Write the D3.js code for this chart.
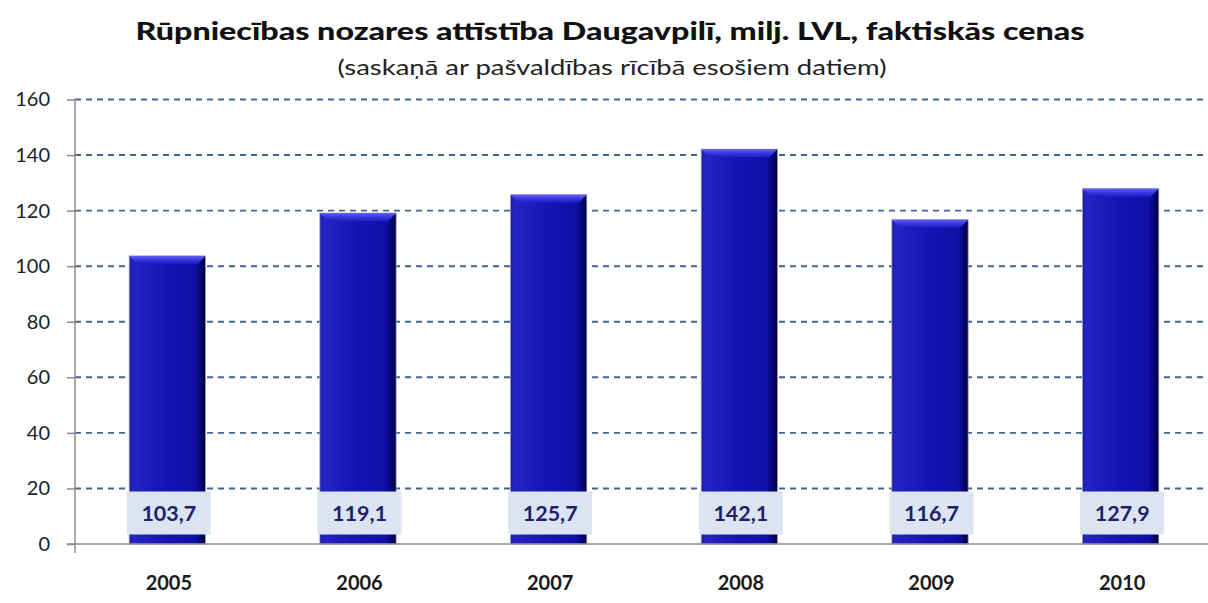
<!DOCTYPE html>
<html>
<head>
<meta charset="utf-8">
<script src="https://cdn.jsdelivr.net/npm/d3@7"></script>
<style>
html,body{margin:0;padding:0;background:#fff;}
svg{display:block;}
</style>
</head>
<body>
<svg id="chart" width="1208" height="603"></svg>
<script>
const categories = ["2005","2006","2007","2008","2009","2010"];
const values = [103.7,119.1,125.7,142.1,116.7,127.9];
const yTicks = [0,20,40,60,80,100,120,140,160];
const titleText = "Rūpniecības nozares attīstība Daugavpilī, milj. LVL, faktiskās cenas";
const subtitleText = "(saskaņā ar pašvaldības rīcībā  esošiem datiem)";

const svg = d3.select("#chart");
const font = "Lato, 'Open Sans', sans-serif";
const plotLeft = 75, plotTop = 99.5, plotBottom = 544;

const x = d3.scaleBand().domain(categories).range([72, 1216]).paddingInner(0.6).paddingOuter(0.3);
const y = d3.scaleLinear().domain([0,160]).range([plotBottom, plotTop]);

const defs = svg.append("defs");
const g1 = defs.append("linearGradient").attr("id","barH").attr("x1","0").attr("x2","1").attr("y1","0").attr("y2","0");
[[0,"#1c1ca0"],[0.05,"#2424c4"],[0.5,"#1414b4"],[0.86,"#1010a8"],[0.95,"#05056a"],[1,"#00003a"]].forEach(s=>g1.append("stop").attr("offset",s[0]).attr("stop-color",s[1]));
const g2 = defs.append("linearGradient").attr("id","barTop").attr("x1","0").attr("x2","0").attr("y1","0").attr("y2","1");
[[0,"#6060f4"],[0.45,"#3a3ae2"],[1,"#1c1cc0"]].forEach(s=>g2.append("stop").attr("offset",s[0]).attr("stop-color",s[1]));

// gridlines
svg.append("g").selectAll("line").data(yTicks.filter(d=>d>0)).join("line")
  .attr("x1", plotLeft).attr("x2", 1208)
  .attr("y1", d=>y(d)).attr("y2", d=>y(d))
  .attr("stroke","#416593").attr("stroke-width",1.9).attr("stroke-dasharray","6,5");

// bars
const bars = svg.append("g").selectAll("g").data(values).join("g");
bars.append("rect")
  .attr("x",(d,i)=>x(categories[i])).attr("width",x.bandwidth())
  .attr("y",d=>y(d)).attr("height",d=>plotBottom-y(d))
  .attr("fill","url(#barH)").attr("stroke","#9a9ab8").attr("stroke-width",0.8);
bars.append("path")
  .attr("d",(d,i)=>{
    const x0=x(categories[i]), x1=x0+x.bandwidth(), y0=y(d), b=8;
    return `M${x0},${y0} L${x1},${y0} L${x1-b},${y0+b} L${x0+b},${y0+b} Z`;
  })
  .attr("fill","url(#barTop)");

// label boxes
const lab = svg.append("g").selectAll("g").data(values).join("g")
  .attr("transform",(d,i)=>`translate(${x(categories[i])+x.bandwidth()/2+1.5},${513})`);
lab.append("rect").attr("x",-42).attr("y",-21.5).attr("width",84).attr("height",43).attr("fill","#dbe4f0");
lab.append("text").attr("text-anchor","middle").attr("dy","0.36em")
  .attr("font-family",font).attr("font-weight","bold").attr("font-size",21.5)
  .attr("fill","#1f1f6a").text(d=>d3.format(".1f")(d).replace(".",","));

// axes
const yAxis = svg.append("g").attr("transform",`translate(${plotLeft},0)`)
  .call(d3.axisLeft(y).tickValues(yTicks).tickSize(8).tickPadding(17));
yAxis.select(".domain").attr("stroke","#8c8c8c").attr("stroke-width",1.5).attr("d",`M0,${plotTop-1}V${plotBottom+9}`);
yAxis.selectAll(".tick line").attr("stroke","#8c8c8c").attr("stroke-width",1.5);
yAxis.selectAll("text").attr("font-family",font).attr("font-size",20).attr("fill","#222");

svg.append("line").attr("x1",67).attr("x2",1208).attr("y1",plotBottom).attr("y2",plotBottom)
  .attr("stroke","#8c8c8c").attr("stroke-width",1.5);

const xAxis = svg.append("g").attr("transform",`translate(1.5,${plotBottom})`)
  .call(d3.axisBottom(x).tickSize(0).tickPadding(32));
xAxis.select(".domain").remove();
xAxis.selectAll("text").attr("font-family",font).attr("font-weight","bold").attr("font-size",20).attr("fill","#1a1a1a");

// titles
svg.append("text").attr("x",610).attr("y",40).attr("text-anchor","middle")
  .attr("font-family",font).attr("font-weight","900").attr("font-size",25).attr("fill","#111")
  .attr("textLength",949).attr("lengthAdjust","spacingAndGlyphs").text(titleText);
svg.append("text").attr("x",612).attr("y",75).attr("text-anchor","middle")
  .attr("font-family",font).attr("font-size",21).attr("fill","#222")
  .attr("textLength",549).attr("lengthAdjust","spacingAndGlyphs").text(subtitleText);
</script>
</body>
</html>
